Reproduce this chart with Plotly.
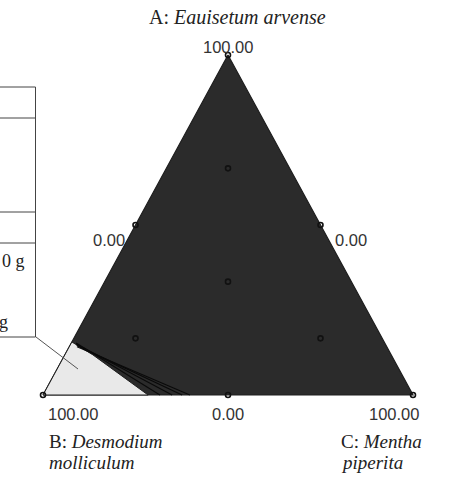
import plotly.graph_objects as go

# ---- data (mixture fractions, %) ----
design_A = [100, 0, 0, 50, 50, 0, 33.33, 66.67, 16.67, 16.67]
design_B = [0, 100, 0, 50, 0, 50, 33.33, 16.67, 66.67, 16.67]
design_C = [0, 0, 100, 0, 50, 50, 33.33, 16.67, 16.67, 66.67]

light_A = [0, 15.6, 11.8, 5.9, 0]
light_B = [100, 84.4, 80.6, 76.2, 71.6]
light_C = [0, 0, 7.6, 17.9, 28.4]

contour_start_A = [15.3, 15.0, 14.6, 14.2]
contour_start_C = [1.3, 1.5, 1.8, 2.1]
contour_end_C = [31.6, 34.9, 37.6, 39.7]

corner_labels = ["100.00", "100.00", "100.00"]
mid_labels = ["0.00", "0.00", "0.00"]

W, H = 449, 481
BX, BY, CX, TOPY = 43, 395, 413, 55   # pixel anchors of triangle


def to_xy(a, b, c):
    s = a + b + c
    a, b, c = a / s, b / s, c / s
    return c + a / 2, a


def xy_list(A, B, C):
    xs, ys = [], []
    for a, b, c in zip(A, B, C):
        x, y = to_xy(a, b, c)
        xs.append(x)
        ys.append(y)
    return xs, ys


fig = go.Figure()

# whole triangle, dark
tx, ty = xy_list([0, 0, 100, 0], [100, 0, 0, 100], [0, 100, 0, 0])
fig.add_trace(go.Scatter(x=tx, y=ty, mode="lines", fill="toself",
                         fillcolor="#2b2b2b", line=dict(color="#1e1e1e", width=1.2),
                         hoverinfo="skip", showlegend=False))

# light region near B
lx, ly = xy_list(light_A, light_B, light_C)
fig.add_trace(go.Scatter(x=lx + [lx[0]], y=ly + [ly[0]], mode="lines", fill="toself",
                         fillcolor="#e9e9e9", line=dict(color="#1e1e1e", width=1),
                         hoverinfo="skip", showlegend=False))

# contour lines
for sa, sc, ec in zip(contour_start_A, contour_start_C, contour_end_C):
    xs, ys = xy_list([sa, 0], [100 - sa - sc, 100 - ec], [sc, ec])
    fig.add_trace(go.Scatter(x=xs, y=ys, mode="lines",
                             line=dict(color="#0a0a0a", width=1.2),
                             hoverinfo="skip", showlegend=False))

# design points
dx, dy = xy_list(design_A, design_B, design_C)
fig.add_trace(go.Scatter(x=dx, y=dy, mode="markers",
                         marker=dict(symbol="circle-open", size=5, color="#111111",
                                     line=dict(width=1.6)),
                         hoverinfo="skip", showlegend=False))

# axis ranges so that unit triangle maps onto pixel anchors
sx = CX - BX
sy = BY - TOPY
fig.update_xaxes(range=[-BX / sx, (W - BX) / sx], visible=False, fixedrange=True)
fig.update_yaxes(range=[(BY - H) / sy, BY / sy], visible=False, fixedrange=True)


def px(x):
    return x / W


def py(y):
    return 1 - y / H


tick_font = dict(family="Liberation Sans, Arial, sans-serif", size=16.5, color="#333333")
ann = []
for (xp, yp), t in zip([(228, 47), (73, 414), (394, 414)], corner_labels):
    ann.append(dict(x=px(xp), y=py(yp), xref="paper", yref="paper", text=t,
                    showarrow=False, font=tick_font, xanchor="center", yanchor="middle"))
for (xp, yp), t in zip([(109, 240), (351, 240), (228, 414)], mid_labels):
    ann.append(dict(x=px(xp), y=py(yp), xref="paper", yref="paper", text=t,
                    showarrow=False, font=tick_font, xanchor="center", yanchor="middle"))

title_font = dict(family="Liberation Serif, Times New Roman, serif", size=20, color="#222222")
serif = dict(family="Liberation Serif, Times New Roman, serif", size=19, color="#222222")
ann.append(dict(x=px(147), y=py(17), xref="paper", yref="paper",
                text="A: <i>Eauisetum arvense</i>", showarrow=False, font=title_font,
                xanchor="left", yanchor="middle"))
for (xp, yp), t in zip([(47, 441), (47, 462), (339, 441), (339, 462)],
                       ["B: <i>Desmodium</i>", "<i>molliculum</i>",
                        "C: <i>Mentha</i>", "<i>piperita</i>"]):
    ann.append(dict(x=px(xp), y=py(yp), xref="paper", yref="paper", text=t,
                    showarrow=False, font=serif, xanchor="left", yanchor="middle"))

small_serif = dict(family="Liberation Serif, Times New Roman, serif", size=18, color="#222222")
ann.append(dict(x=px(27), y=py(261), xref="paper", yref="paper", text="0 g",
                showarrow=False, font=small_serif, xanchor="right", yanchor="middle"))
ann.append(dict(x=px(10), y=py(322), xref="paper", yref="paper", text="g",
                showarrow=False, font=small_serif, xanchor="right", yanchor="middle"))

shapes = []
box_line = dict(color="#444444", width=1)
shapes.append(dict(type="rect", xref="paper", yref="paper", x0=px(-40), x1=px(35.5),
                   y0=py(337), y1=py(87), line=box_line))
for yy in [118, 212, 243]:
    shapes.append(dict(type="line", xref="paper", yref="paper", x0=px(-40), x1=px(35.5),
                       y0=py(yy), y1=py(yy), line=box_line))
shapes.append(dict(type="line", xref="paper", yref="paper", x0=px(36), x1=px(78),
                   y0=py(337), y1=py(369), line=dict(color="#555555", width=1)))

fig.update_layout(width=W, height=H, margin=dict(l=0, r=0, t=0, b=0),
                  paper_bgcolor="white", plot_bgcolor="white",
                  annotations=ann, shapes=shapes, showlegend=False)

fig.write_html("out.html")
